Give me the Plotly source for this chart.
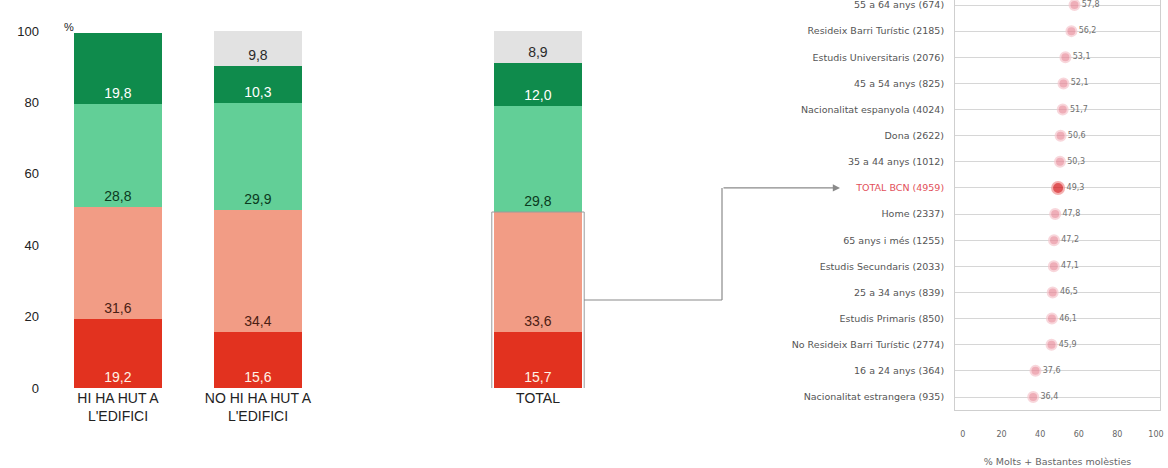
import plotly.graph_objects as go

# ---------------- data ----------------
bar_categories = ["HI HA HUT A<br>L'EDIFICI", "NO HI HA HUT A<br>L'EDIFICI", "TOTAL"]
seg_molts = [19.2, 15.6, 15.7]          # dark red
seg_bastants = [31.6, 34.4, 33.6]       # salmon
seg_poques = [28.8, 29.9, 29.8]         # light green
seg_cap = [19.8, 10.3, 12.0]            # dark green
seg_nsnc = [None, 9.8, 8.9]             # grey
y_ticks = [0, 20, 40, 60, 80, 100]

dot_labels = [
    "55 a 64 anys (674)", "Resideix Barri Turístic (2185)", "Estudis Universitaris (2076)",
    "45 a 54 anys (825)", "Nacionalitat espanyola (4024)", "Dona (2622)",
    "35 a 44 anys (1012)", "TOTAL BCN (4959)", "Home (2337)", "65 anys i més (1255)",
    "Estudis Secundaris (2033)", "25 a 34 anys (839)", "Estudis Primaris (850)",
    "No Resideix Barri Turístic (2774)", "16 a 24 anys (364)", "Nacionalitat estrangera (935)",
]
dot_values = [57.8, 56.2, 53.1, 52.1, 51.7, 50.6, 50.3, 49.3, 47.8, 47.2,
              47.1, 46.5, 46.1, 45.9, 37.6, 36.4]
dot_x_ticks = [0, 20, 40, 60, 80, 100]
total_label = "TOTAL BCN (4959)"

# ---------------- layout helpers ----------------
W, H = 1168, 468
FONT = "Liberation Sans, Arial, sans-serif"
FONT2 = "DejaVu Sans, sans-serif"

def px_x(p):
    return p / W

def px_y(p):
    return 1 - p / H

cat_order = [bar_categories[0], bar_categories[1], " ", bar_categories[2]]

def fmt(v):
    return "" if v is None else f"{v:.1f}".replace(".", ",")

fig = go.Figure()

segments = [
    (seg_molts, "#e2321f", "#fff3e6"),
    (seg_bastants, "#f29c85", "#4a1e14"),
    (seg_poques, "#62cf97", "#0b3a20"),
    (seg_cap, "#0f8b4c", "#ffffff"),
    (seg_nsnc, "#e2e2e2", "#2a2a2a"),
]
for vals, col, tcol in segments:
    fig.add_trace(go.Bar(
        x=bar_categories, y=vals, marker=dict(color=col, line=dict(width=0)),
        width=0.63, text=[fmt(v) for v in vals], textposition="inside",
        insidetextanchor="start", textangle=0,
        textfont=dict(family=FONT, size=14, color=tcol),
        xaxis="x", yaxis="y", showlegend=False, hoverinfo="skip",
        cliponaxis=False,
    ))

# dot plot
n = len(dot_labels)
idx = list(range(n))
ti = dot_labels.index(total_label)
colors = ["#d40f12" if l == total_label else "#e98c9b" for l in dot_labels]
lines = ["#f09090" if l == total_label else "#f6c6cd" for l in dot_labels]
sizes = [12 if l == total_label else 10 for l in dot_labels]
fig.add_trace(go.Scatter(
    x=dot_values, y=idx, mode="markers+text",
    marker=dict(color=colors, size=sizes, line=dict(color=lines, width=2)),
    text=[fmt(v) for v in dot_values], textposition="middle right",
    textfont=dict(family=FONT2, size=8, color="#707070"),
    xaxis="x2", yaxis="y2", showlegend=False, hoverinfo="skip", cliponaxis=False,
))

ticktext = [
    f'<span style="color:#e2505a">{l}</span>' if l == total_label else l
    for l in dot_labels
]

# left chart geometry (pixels)
L_X0, L_X1 = 48, 608
L_Y0, L_Y1 = 388, 31   # y of value 0 and value 100
R_X0, R_X1 = 955, 1160
R_YB = 410

def yval_to_px(v):
    return L_Y0 - (L_Y0 - L_Y1) * v / 100.0

row_h = (397 - 5) / (n - 1)
r_top_idx = -5 / row_h
r_bot_idx = (R_YB - 5) / row_h

def row_to_px(i):
    return 5 + i * row_h

fig.update_layout(
    width=W, height=H, margin=dict(l=0, r=0, t=0, b=0),
    paper_bgcolor="white", plot_bgcolor="white",
    barmode="stack", bargap=0.37,
    font=dict(family=FONT, color="#222"),
    xaxis=dict(domain=[px_x(L_X0), px_x(L_X1)], type="category",
               categoryorder="array", categoryarray=cat_order,
               tickfont=dict(size=14, color="#222"), showgrid=False,
               showline=False, ticks="", automargin=False),
    yaxis=dict(domain=[px_y(L_Y0), px_y(L_Y1)], range=[0, 100],
               tickvals=y_ticks, tickfont=dict(size=13, color="#222"),
               showgrid=False, zeroline=False, showline=False, ticks="",
               ticklabelstandoff=8, automargin=False, ticklabeloverflow="allow"),
    xaxis2=dict(domain=[px_x(R_X0), px_x(R_X1)], range=[-4.1, 102.1],
                tickvals=dot_x_ticks, tickfont=dict(family=FONT2, size=8, color="#666"),
                showgrid=False, zeroline=False, showline=True, mirror=True,
                linecolor="#cfcfcf", linewidth=1, ticks="",
                ticklabelstandoff=16, anchor="y2", automargin=False,
                ticklabeloverflow="allow",
                title=dict(text="% Molts + Bastantes molèsties",
                           font=dict(family=FONT2, size=9.5, color="#666"), standoff=20)),
    yaxis2=dict(domain=[px_y(R_YB), 1], range=[r_bot_idx, r_top_idx],
                tickvals=idx, ticktext=ticktext,
                tickfont=dict(family=FONT2, size=9.5, color="#555"),
                showgrid=True, gridcolor="#d6d6d6", gridwidth=1,
                zeroline=False, showline=True, mirror=True,
                linecolor="#cfcfcf", ticks="", ticklabelstandoff=8,
                ticklabeloverflow="allow",
                anchor="x2", automargin=False),
)

# box around bottom two segments of TOTAL bar
box_top = seg_molts[2] + seg_bastants[2]
fig.add_shape(type="rect", xref="x", yref="y", x0=3 - 0.33, x1=3 + 0.33,
              y0=-0.3, y1=box_top, line=dict(color="#9a9a9a", width=1),
              fillcolor="rgba(0,0,0,0)")

# connector arrow
start_y = yval_to_px(box_top / 2)
sx = 584
mx = 722
ty = row_to_px(ti)
ex = 840
lc = "#8a8a8a"
fig.add_shape(type="line", xref="paper", yref="paper",
              x0=px_x(sx), x1=px_x(mx), y0=px_y(start_y), y1=px_y(start_y),
              line=dict(color=lc, width=1.2))
fig.add_shape(type="line", xref="paper", yref="paper",
              x0=px_x(mx), x1=px_x(mx), y0=px_y(start_y), y1=px_y(ty),
              line=dict(color=lc, width=1.2))
fig.add_annotation(xref="paper", yref="paper", x=px_x(ex), y=px_y(ty),
                   axref="pixel", ayref="pixel", ax=-(ex - mx), ay=0,
                   text="", showarrow=True, arrowhead=2, arrowsize=1.2,
                   arrowwidth=1.2, arrowcolor=lc, standoff=0)

# "%" label
fig.add_annotation(xref="paper", yref="paper", x=px_x(62), y=px_y(19),
                   text="%", showarrow=False, font=dict(size=11, color="#222"))

fig.write_html("out.html")
